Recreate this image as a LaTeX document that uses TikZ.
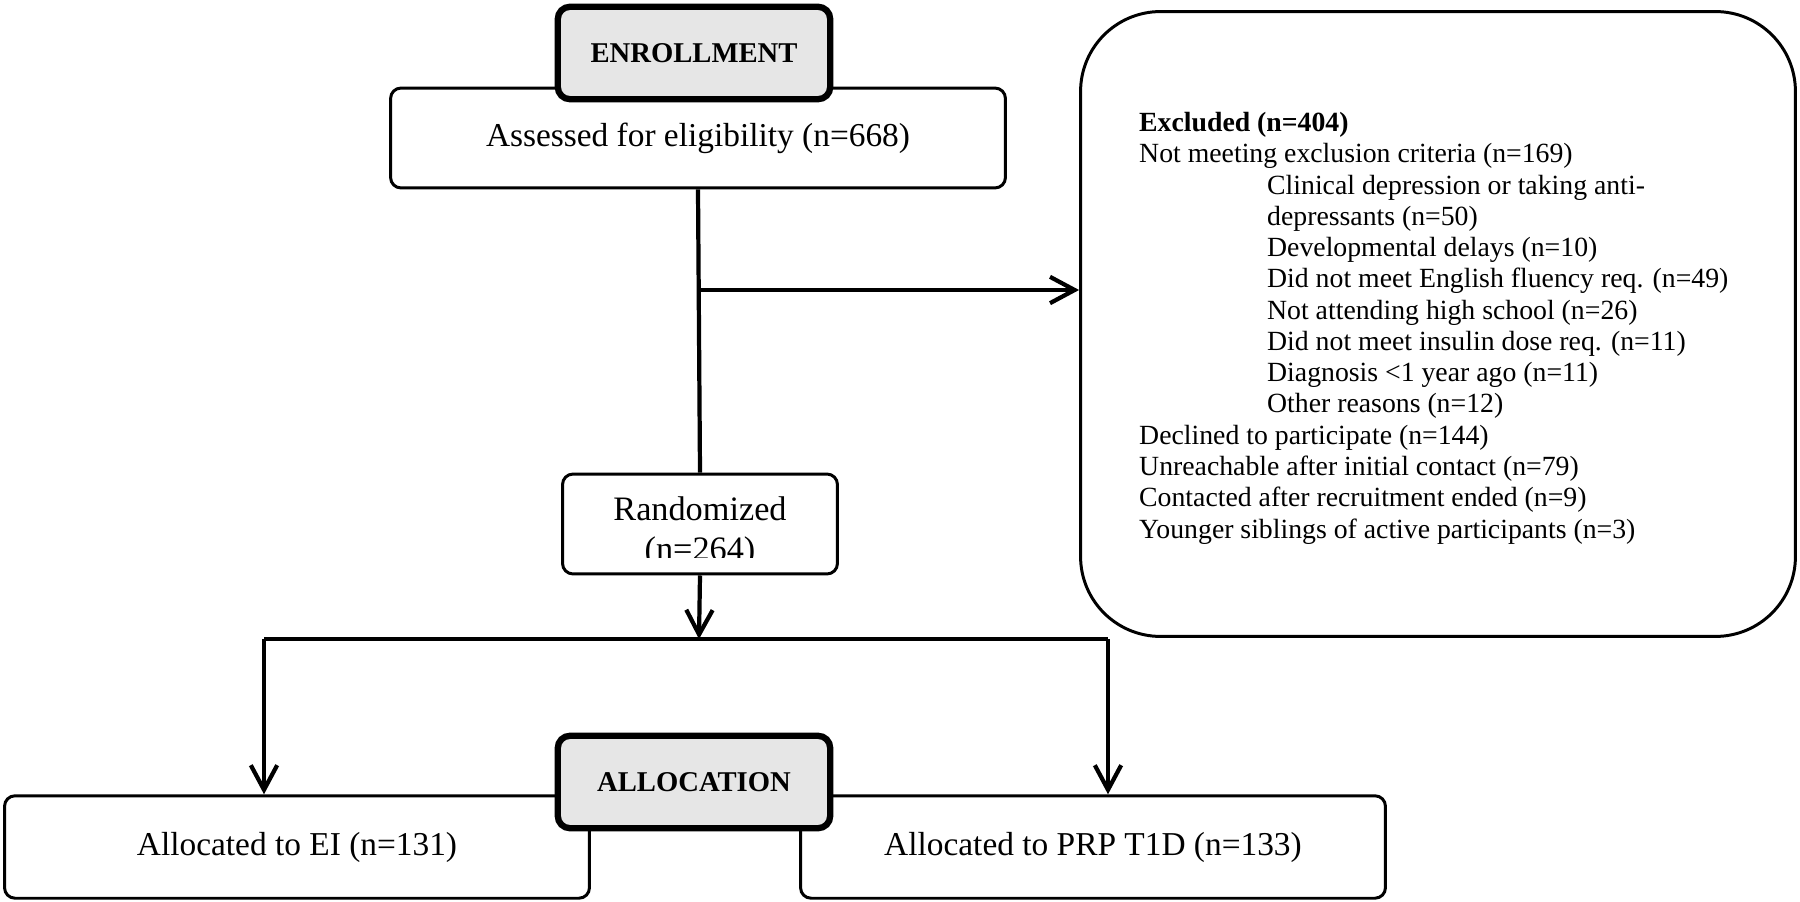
\documentclass[tikz,border=0pt]{standalone}
\usepackage{fontspec}
\setmainfont{Liberation Serif}
\usepackage{tikz}
\usetikzlibrary{arrows.meta}
\definecolor{headgray}{RGB}{230,230,230}
\newcommand{\subind}{\hspace*{2.56cm}}

\tikzset{
  box/.style={draw, rounded corners=6pt, line width=1.7pt, fill=white,
    font=\fontsize{19}{22}\selectfont},
  head/.style={draw, rounded corners=7pt, line width=3.6pt, fill=headgray,
    font=\bfseries\fontsize{16.3}{19}\selectfont},
  link/.style={line width=2.4pt}
}

\begin{document}
\begin{tikzpicture}[x=0.02cm, y=-0.02cm, >={Straight Barb[length=14pt,width=15pt,line width=2.4pt]}]
    \useasboundingbox (0,0) rectangle (1800,902);
    % enrollment
    \node (assess) at (698,138) [box, minimum width=12.3cm, minimum height=2cm] {Assessed for eligibility (n=668)};
    \node (enrol) at (694,53) [head, minimum width=5.45cm, minimum height=1.85cm] {ENROLLMENT};
    \node (excl) at (1438,324) [box, rounded corners=1.6cm, minimum width=14.3cm, minimum height=12.5cm] {};
    \node (excltxt) at (1133,106) [anchor=north west, align=left, font=\fontsize{15.8}{17.8}\selectfont] {%
        \textbf{Excluded (n=404)}\\
        Not meeting exclusion criteria (n=169)\\
        \subind Clinical depression or taking anti-\\
        \subind depressants (n=50)\\
        \subind Developmental delays (n=10)\\
        \subind Did not meet English fluency req. (n=49)\\
        \subind Not attending high school (n=26)\\
        \subind Did not meet insulin dose req. (n=11)\\
        \subind Diagnosis <1 year ago (n=11)\\
        \subind Other reasons (n=12)\\
        Declined to participate (n=144)\\
        Unreachable after initial contact (n=79)\\
        Contacted after recruitment ended (n=9)\\
        Younger siblings of active participants (n=3)};
    \node (rand) at (700,524) [box, minimum width=5.5cm, minimum height=2cm] {};
    \begin{scope}
        \clip (562,472) rectangle (841,557);
        \node (randtxt) at (700,532) [align=center, font=\fontsize{19.5}{22.5}\selectfont] {Randomized\\(n=264)};
    \end{scope}
    \coordinate (split) at (699,290);
    \draw[link] (assess.south) -- (rand.north);
    \draw[link,->] (split) -- (split -| excl.west);
    % allocation
    \node (ei) at (297,847) [box, minimum width=11.7cm, minimum height=2.05cm] {Allocated to EI (n=131)};
    \node (prp) at (1093,847) [box, minimum width=11.7cm, minimum height=2.05cm] {Allocated to PRP T1D (n=133)};
    \node (alloc) at (694,782) [head, minimum width=5.45cm, minimum height=1.85cm] {ALLOCATION};
    \coordinate (fork) at (699,639);
    \coordinate (forkL) at (264,639);
    \coordinate (forkR) at (1108,639);
    \draw[link,->] (rand.south) -- (fork);
    \draw[link] (forkL) -- (forkR);
    \draw[link,->] (forkL) -- (forkL |- ei.north);
    \draw[link,->] (forkR) -- (forkR |- prp.north);
\end{tikzpicture}
\end{document}
